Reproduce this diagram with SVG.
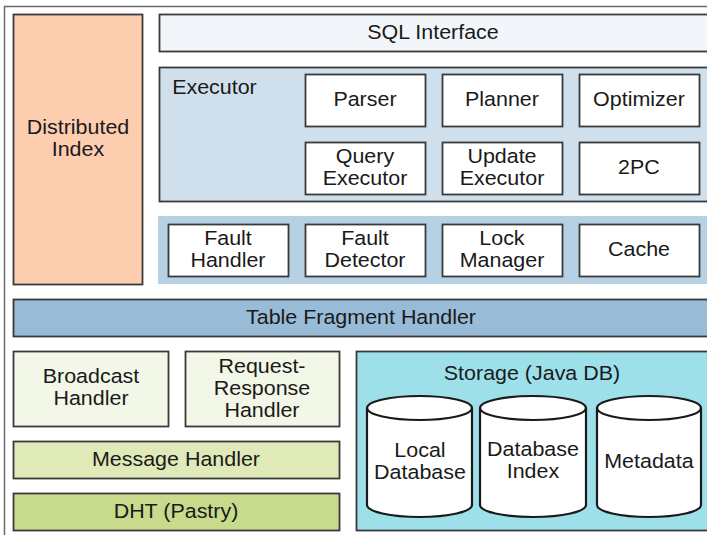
<svg xmlns="http://www.w3.org/2000/svg" width="707" height="535" viewBox="0 0 707 535">
<style>
text{font-family:"Liberation Sans",Arial,sans-serif;font-size:19.5px;fill:#1a1a1a;text-anchor:middle;transform-box:fill-box;transform-origin:center;transform:scaleX(1.1)}
.b{stroke:#3a3a3a;stroke-width:1.8}
.w{fill:#ffffff}
.cyl{fill:#ffffff;stroke:#1a1a1a;stroke-width:2.2}
</style>
<rect x="0" y="0" width="707" height="535" fill="#ffffff"/>
<rect id="frame" x="4.5" y="6.5" width="730" height="540" fill="none" stroke="#6a6a6a" stroke-width="1.5"/>
<g id="distributed-index"><rect class="b" x="13.5" y="14.5" width="129" height="270" fill="#fdcdb0"/><text x="78" y="134">Distributed</text><text x="78" y="156">Index</text></g>
<g id="sql-interface"><rect class="b" x="159.5" y="14.5" width="560" height="37" fill="#f2f6fa"/><text x="433" y="39">SQL Interface</text></g>
<g id="executor"><rect class="b" x="159.5" y="67.5" width="560" height="134" fill="#cfe0ec"/><text x="176" y="94" style="text-anchor:start">Executor</text></g>
<g id="parser"><rect class="b w" x="305.5" y="74.5" width="120" height="52"/><text x="365" y="106">Parser</text></g>
<g id="planner"><rect class="b w" x="442.5" y="74.5" width="120" height="52"/><text x="502" y="106">Planner</text></g>
<g id="optimizer"><rect class="b w" x="579.5" y="74.5" width="120" height="52"/><text x="639" y="106">Optimizer</text></g>
<g id="query-executor"><rect class="b w" x="305.5" y="142.5" width="120" height="52"/><text x="365" y="163">Query</text><text x="365" y="185">Executor</text></g>
<g id="update-executor"><rect class="b w" x="442.5" y="142.5" width="120" height="52"/><text x="502" y="163">Update</text><text x="502" y="185">Executor</text></g>
<g id="twopc"><rect class="b w" x="579.5" y="142.5" width="120" height="52"/><text x="639" y="174">2PC</text></g>
<g id="fault-panel"><rect x="158" y="216" width="560" height="68" fill="#b7d1e4"/></g>
<g id="fault-handler"><rect class="b w" x="168.5" y="224.5" width="120" height="52"/><text x="228" y="245">Fault</text><text x="228" y="267">Handler</text></g>
<g id="fault-detector"><rect class="b w" x="305.5" y="224.5" width="120" height="52"/><text x="365" y="245">Fault</text><text x="365" y="267">Detector</text></g>
<g id="lock-manager"><rect class="b w" x="442.5" y="224.5" width="120" height="52"/><text x="502" y="245">Lock</text><text x="502" y="267">Manager</text></g>
<g id="cache"><rect class="b w" x="579.5" y="224.5" width="120" height="52"/><text x="639" y="256">Cache</text></g>
<g id="table-fragment-handler"><rect class="b" x="13.5" y="299.5" width="710" height="37" fill="#98bcd8"/><text x="361" y="324">Table Fragment Handler</text></g>
<g id="broadcast-handler"><rect class="b" x="13.5" y="351.5" width="155" height="75" fill="#f3f7e7"/><text x="91" y="383">Broadcast</text><text x="91" y="405">Handler</text></g>
<g id="request-response-handler"><rect class="b" x="185.5" y="351.5" width="154" height="75" fill="#f3f7e7"/><text x="262" y="373">Request-</text><text x="262" y="395">Response</text><text x="262" y="417">Handler</text></g>
<g id="message-handler"><rect class="b" x="13.5" y="441.5" width="326" height="37" fill="#dfeab8"/><text x="176" y="466">Message Handler</text></g>
<g id="dht"><rect class="b" x="13.5" y="493.5" width="326" height="37" fill="#c8da8c"/><text x="176" y="518">DHT (Pastry)</text></g>
<g id="storage"><rect class="b" x="356.5" y="351.5" width="370" height="179" fill="#9de0ea"/><text x="532" y="380">Storage (Java DB)</text></g>
<g id="local-database"><path class="cyl" d="M367,408 A52.5,12 0 0 1 472,408 L472,505 A52.5,12 0 0 1 367,505 Z"/><path d="M367,408 A52.5,12 0 0 0 472,408" fill="none" stroke="#1a1a1a" stroke-width="2.2"/><text x="420" y="457">Local</text><text x="420" y="479">Database</text></g>
<g id="database-index"><path class="cyl" d="M480,408 A53,12 0 0 1 586,408 L586,505 A53,12 0 0 1 480,505 Z"/><path d="M480,408 A53,12 0 0 0 586,408" fill="none" stroke="#1a1a1a" stroke-width="2.2"/><text x="533" y="456">Database</text><text x="533" y="478">Index</text></g>
<g id="metadata"><path class="cyl" d="M597,408 A52,12 0 0 1 701,408 L701,505 A52,12 0 0 1 597,505 Z"/><path d="M597,408 A52,12 0 0 0 701,408" fill="none" stroke="#1a1a1a" stroke-width="2.2"/><text x="649" y="468">Metadata</text></g>
<g id="connectors"></g>
</svg>
